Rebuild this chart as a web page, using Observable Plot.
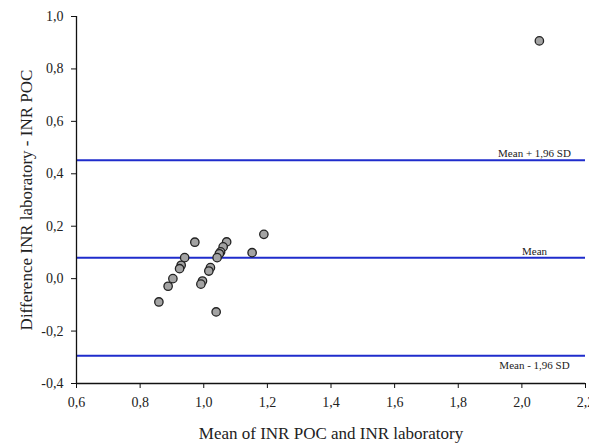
<!DOCTYPE html>
<html>
<head>
<meta charset="utf-8">
<script src="https://cdn.jsdelivr.net/npm/d3@7"></script>
<script src="https://cdn.jsdelivr.net/npm/@observablehq/plot@0.6"></script>
<style>
  html, body { margin: 0; padding: 0; background: #fff; }
</style>
</head>
<body>
<div id="chart"></div>
<script>
// Mean of INR POC and INR laboratory (x) vs difference (y)
const meanINR = [0.972, 1.189, 1.072, 1.061, 1.053, 1.049, 1.042, 0.940, 1.152, 0.929,
                 0.924, 1.021, 1.016, 0.903, 0.888, 0.996, 0.991, 0.859, 1.039, 2.055];
const diffINR = [0.139, 0.169, 0.140, 0.121, 0.102, 0.095, 0.080, 0.080, 0.099, 0.051,
                 0.038, 0.042, 0.029, 0.000, -0.029, -0.009, -0.021, -0.089, -0.127, 0.907];

const refNames = ["Mean + 1,96 SD", "Mean", "Mean - 1,96 SD"];
const refValues = [0.452, 0.080, -0.294];

const xTicks = [0.6, 0.8, 1.0, 1.2, 1.4, 1.6, 1.8, 2.0, 2.2];
const yTicks = [-0.4, -0.2, 0.0, 0.2, 0.4, 0.6, 0.8, 1.0];
const xTitle = "Mean of INR POC and INR laboratory";
const yTitle = "Difference INR laboratory - INR POC";

const points = meanINR.map((m, i) => ({x: m, y: diffINR[i]}));
const refs = refNames.map((n, i) => ({name: n, y: refValues[i]}));
const fmt = d => d.toFixed(1).replace(".", ",");
const blue = "#1f2ccc";

const chart = Plot.plot({
  width: 589,
  height: 445,
  marginLeft: 76,
  marginRight: 4,
  marginTop: 16,
  marginBottom: 62,
  style: {fontFamily: "'Liberation Serif', serif", fontSize: "14px", color: "#222", background: "#fff", overflow: "visible"},
  x: {domain: [0.6, 2.2]},
  y: {domain: [-0.4, 1.0]},
  marks: [
    Plot.ruleY(refs, {y: "y", stroke: blue, strokeWidth: 2}),
    Plot.text(refs.filter((d, i) => i < 2), {y: "y", text: "name", frameAnchor: "right", dx: -51, textAnchor: "middle", lineAnchor: "bottom", dy: -3, fontSize: 11, fill: "#222"}),
    Plot.text(refs.filter((d, i) => i === 2), {y: "y", text: "name", frameAnchor: "right", dx: -51, textAnchor: "middle", lineAnchor: "top", dy: 5, fontSize: 11, fill: "#222"}),
    Plot.axisX({ticks: xTicks, tickSize: 5, tickPadding: 9, tickFormat: fmt, label: null, stroke: "#111", fill: "#222"}),
    Plot.axisY({ticks: yTicks, tickSize: 5, tickPadding: 8, tickFormat: fmt, label: null, stroke: "#111", fill: "#222"}),
    Plot.ruleY([-0.4], {stroke: "#111", strokeWidth: 1.3}),
    Plot.ruleX([0.6], {stroke: "#111", strokeWidth: 1.3}),
    Plot.dot(points, {x: "x", y: "y", r: 4.2, fill: "#a3a3a3", stroke: "#222", strokeWidth: 1.3}),
    Plot.text([xTitle], {text: d => d, frameAnchor: "bottom", textAnchor: "middle", dy: 55, fontSize: 17, fill: "#222"}),
    Plot.text([yTitle], {text: d => d, frameAnchor: "left", textAnchor: "middle", dx: -50, rotate: -90, fontSize: 17, fill: "#222"})
  ]
});
document.getElementById("chart").appendChild(chart);
</script>
</body>
</html>
